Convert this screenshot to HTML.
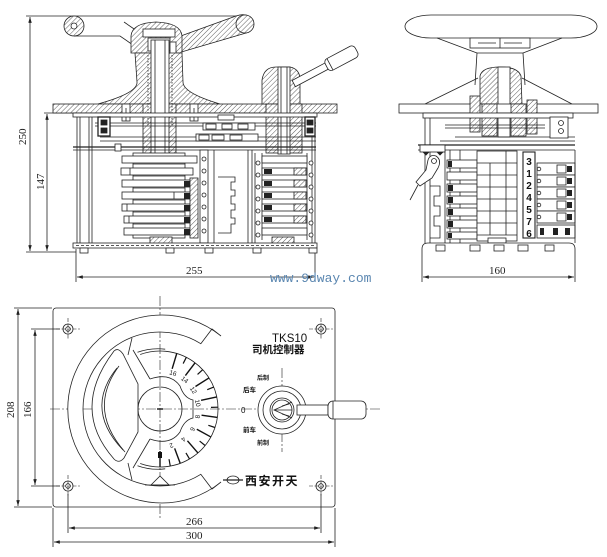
<!DOCTYPE html>
<html><head><meta charset="utf-8"><style>
html,body{margin:0;padding:0;background:#fff;}
svg{display:block;}
.dim{font-family:"Liberation Serif",serif;fill:#222;}
.cn{font-family:"Liberation Sans","Noto Sans CJK SC","WenQuanYi Zen Hei",sans-serif;font-weight:bold;fill:#111;}
.sans{font-family:"Liberation Sans",sans-serif;fill:#111;}
.num{font-family:"Liberation Sans",sans-serif;font-weight:bold;fill:#111;}
.wm{font-family:"Liberation Mono",monospace;fill:#5a86b0;}
</style></head><body>
<svg width="607" height="557" viewBox="0 0 607 557" xmlns="http://www.w3.org/2000/svg">
<defs>
<pattern id="h" width="3.5" height="3.5" patternUnits="userSpaceOnUse" patternTransform="rotate(45)">
<rect width="3.5" height="3.5" fill="#fff"/><line x1="0" y1="0" x2="0" y2="3.5" stroke="#333" stroke-width="0.8"/></pattern>
<marker id="a" viewBox="0 0 10 6" refX="10" refY="3" markerWidth="7" markerHeight="3.5" markerUnits="userSpaceOnUse" orient="auto-start-reverse"><path d="M0,0 L10,3 L0,6z" fill="#222"/></marker>
</defs>
<rect width="607" height="557" fill="#fff"/>

<g stroke="#222" stroke-width="0.8" fill="none">
<!-- ================= TOP-LEFT VIEW ================= -->
<line x1="26" y1="16" x2="245" y2="16"/>
<line x1="30" y1="17" x2="30" y2="251" marker-start="url(#a)" marker-end="url(#a)"/>
<line x1="26" y1="252" x2="76" y2="252"/>
<line x1="44" y1="113" x2="73" y2="113"/>
<line x1="47" y1="114" x2="47" y2="251" marker-start="url(#a)" marker-end="url(#a)"/>
<line x1="76" y1="249" x2="76" y2="282"/>
<line x1="315" y1="249" x2="315" y2="282"/>
<line x1="77" y1="277" x2="314" y2="277" marker-start="url(#a)" marker-end="url(#a)"/>

<circle cx="74" cy="26" r="10" fill="url(#h)"/>
<circle cx="74" cy="26" r="3" fill="#fff"/>
<polyline points="74,36 120,36 133,45"/>
<polyline points="124,22 137,31"/>
<path d="M178,37 L236,16 Q247,12 253,20 Q256,30 246,33 L178,53 Z" fill="url(#h)"/>
<circle cx="245" cy="24" r="9" fill="url(#h)"/>
<path d="M131,53 L131,36 Q132,23 156,22 Q181,23 182,36 L182,53 Z" fill="url(#h)"/>
<rect x="143" y="29" width="32" height="8" fill="#fff"/>
<rect x="148" y="38" width="22" height="13" fill="#fff"/>
<rect x="170" y="42" width="6" height="18" fill="#fff"/>
<path d="M135,53 L137,82 Q138,93 98,104 L220,104 Q183,93 183,82 L182,53 Z" fill="url(#h)"/>
<rect x="53" y="104" width="284" height="9" fill="url(#h)"/>
<rect x="143" y="104" width="33" height="50" fill="url(#h)"/>
<rect x="151" y="40" width="18" height="114" fill="#fff"/>
<line x1="155" y1="40" x2="155" y2="154"/><line x1="165" y1="40" x2="165" y2="154"/>
<line x1="148" y1="55" x2="148" y2="125" stroke-dasharray="1.5,1.5"/>
<line x1="172" y1="55" x2="172" y2="125" stroke-dasharray="1.5,1.5"/>
<rect x="122" y="104" width="8" height="17" fill="#fff"/><line x1="126" y1="108" x2="126" y2="121"/>
<rect x="190" y="104" width="8" height="17" fill="#fff"/><line x1="194" y1="108" x2="194" y2="121"/>

<path d="M262,104 L262,80 Q264,67 276,67 L290,67 Q300,69 300,80 L300,104 Z" fill="url(#h)"/>
<rect x="266" y="104" width="36" height="49" fill="url(#h)"/>
<rect x="278" y="67" width="12" height="87" fill="#fff"/>
<line x1="281" y1="67" x2="281" y2="154"/><line x1="287" y1="67" x2="287" y2="154"/>
<g transform="rotate(-28 294 84)">
<rect x="294" y="80" width="38" height="7" fill="#fff"/>
<rect x="331" y="77" width="34" height="13" rx="4" fill="#fff"/>
<line x1="335" y1="77" x2="335" y2="90"/>
</g>

<rect x="73" y="113" width="244" height="4" fill="#fff"/>
<line x1="95" y1="123" x2="316" y2="123"/>
<line x1="95" y1="126" x2="316" y2="126"/>
<line x1="100" y1="137" x2="316" y2="137"/>
<line x1="100" y1="141" x2="316" y2="141"/>
<line x1="73" y1="147" x2="316" y2="147" stroke-width="1.2"/>
<line x1="73" y1="150" x2="316" y2="150"/>
<line x1="77" y1="117" x2="77" y2="243"/><line x1="80" y1="117" x2="80" y2="243"/>
<line x1="89" y1="117" x2="89" y2="243"/><line x1="92" y1="117" x2="92" y2="243"/>
<line x1="312" y1="117" x2="312" y2="243"/><line x1="315" y1="117" x2="315" y2="243"/>
<rect x="98" y="117" width="12" height="19" fill="#fff" stroke-width="1.3"/>
<rect x="101" y="120" width="6" height="5" fill="#222"/><rect x="101" y="128" width="6" height="5" fill="#222"/>
<rect x="115" y="144" width="6" height="7" fill="#fff"/>
<rect x="218" y="115" width="16" height="5" fill="#fff"/>
<rect x="203" y="123" width="52" height="7" fill="#fff"/>
<rect x="206" y="124" width="10" height="5"/><rect x="222" y="124" width="10" height="5"/><rect x="238" y="124" width="10" height="5"/>
<rect x="196" y="134" width="62" height="7" fill="#fff"/>
<rect x="199" y="135" width="10" height="5"/><rect x="212" y="135" width="12" height="5"/><rect x="230" y="135" width="12" height="5"/>
<rect x="305" y="117" width="10" height="19" fill="#fff" stroke-width="1.3"/>
<rect x="307" y="120" width="6" height="5" fill="#222"/><rect x="307" y="128" width="6" height="5" fill="#222"/>

<rect x="133" y="153" width="52" height="85" fill="#fff"/>
<rect x="122" y="156" width="75" height="7" fill="#fff"/>
<rect x="121" y="168" width="72" height="7" fill="#fff"/><line x1="130" y1="168" x2="130" y2="175"/>
<rect x="122" y="180" width="75" height="7" fill="#fff"/>
<rect x="122" y="192" width="71" height="7" fill="#fff"/><line x1="174" y1="192" x2="174" y2="199"/>
<rect x="122" y="204" width="75" height="7" fill="#fff"/><line x1="127" y1="204" x2="127" y2="211"/>
<rect x="124" y="216" width="69" height="7" fill="#fff"/><line x1="129" y1="216" x2="129" y2="223"/>
<rect x="124" y="228" width="73" height="7" fill="#fff"/>
<line x1="133" y1="164" x2="185" y2="164"/><line x1="133" y1="176" x2="185" y2="176"/>
<line x1="133" y1="188" x2="185" y2="188"/><line x1="133" y1="200" x2="185" y2="200"/>
<line x1="133" y1="212" x2="185" y2="212"/><line x1="133" y1="224" x2="185" y2="224"/>
<g fill="#222" stroke="none">
<rect x="184" y="181" width="6" height="6"/><rect x="184" y="193" width="6" height="6"/>
<rect x="184" y="205" width="6" height="6"/><rect x="184" y="217" width="6" height="6"/>
<rect x="184" y="229" width="6" height="6"/>
</g>
<rect x="190" y="178" width="8" height="60" fill="url(#h)"/>
<rect x="200" y="150" width="8" height="93" fill="#fff"/>
<g fill="#fff">
<circle cx="204" cy="159" r="2"/><circle cx="204" cy="171" r="2"/><circle cx="204" cy="183" r="2"/>
<circle cx="204" cy="195" r="2"/><circle cx="204" cy="207" r="2"/><circle cx="204" cy="219" r="2"/><circle cx="204" cy="231" r="2"/>
</g>
<line x1="214" y1="150" x2="214" y2="243"/>
<line x1="248" y1="150" x2="248" y2="243"/><line x1="252" y1="150" x2="252" y2="243"/>
<polyline points="218,177 235,177 235,182 231,182 231,190 235,190 235,196 231,196 231,204 235,204 235,210 231,210 231,218 235,218 235,224 231,224 231,233 218,233"/>
<line x1="255" y1="153" x2="255" y2="243"/>
<line x1="262" y1="153" x2="262" y2="240"/><line x1="307" y1="153" x2="307" y2="240"/>
<rect x="262" y="156" width="45" height="7" fill="#fff"/>
<rect x="262" y="168" width="45" height="7" fill="#fff"/>
<rect x="262" y="180" width="45" height="7" fill="#fff"/>
<rect x="262" y="192" width="45" height="7" fill="#fff"/>
<rect x="262" y="204" width="45" height="7" fill="#fff"/>
<rect x="262" y="216" width="45" height="7" fill="#fff"/>
<rect x="262" y="228" width="45" height="7" fill="#fff"/>
<g fill="#222" stroke="none">
<rect x="264" y="169" width="8" height="5"/><rect x="264" y="181" width="8" height="5"/>
<rect x="264" y="193" width="8" height="5"/><rect x="264" y="205" width="8" height="5"/>
<rect x="264" y="217" width="8" height="5"/>
</g>
<rect x="294" y="168" width="12" height="7" fill="url(#h)"/><rect x="294" y="180" width="12" height="7" fill="url(#h)"/>
<rect x="294" y="192" width="12" height="7" fill="url(#h)"/><rect x="294" y="204" width="12" height="7" fill="url(#h)"/>
<rect x="294" y="216" width="12" height="7" fill="url(#h)"/>
<g fill="#fff">
<circle cx="258" cy="163" r="2"/><circle cx="258" cy="175" r="2"/><circle cx="258" cy="187" r="2"/>
<circle cx="258" cy="199" r="2"/><circle cx="258" cy="211" r="2"/><circle cx="258" cy="223" r="2"/><circle cx="258" cy="235" r="2"/>
<circle cx="311" cy="163" r="2"/><circle cx="311" cy="175" r="2"/><circle cx="311" cy="187" r="2"/>
<circle cx="311" cy="199" r="2"/><circle cx="311" cy="211" r="2"/><circle cx="311" cy="223" r="2"/><circle cx="311" cy="235" r="2"/>
</g>
<rect x="150" y="237" width="22" height="7" fill="url(#h)"/>
<rect x="272" y="237" width="22" height="7" fill="url(#h)"/>
<rect x="73" y="243" width="244" height="5" fill="#fff"/>
<line x1="76" y1="245.5" x2="314" y2="245.5" stroke-dasharray="3,2"/>
<rect x="80" y="248" width="8" height="5" fill="#fff"/>
<rect x="166" y="248" width="8" height="5" fill="#fff"/>
<rect x="205" y="248" width="8" height="5" fill="#fff"/>
<rect x="253" y="248" width="8" height="5" fill="#fff"/>
<rect x="309" y="248" width="8" height="5" fill="#fff"/>

<!-- ================= RIGHT VIEW ================= -->
<rect x="405" y="15" width="192" height="23" rx="26" ry="11.5" fill="#fff"/>
<line x1="437" y1="38" x2="477" y2="53"/><line x1="562" y1="38" x2="523" y2="53"/>
<rect x="470" y="38" width="60" height="10" fill="#fff"/>
<line x1="478" y1="43" x2="496" y2="43"/><line x1="504" y1="43" x2="522" y2="43"/>
<line x1="500" y1="38" x2="500" y2="48"/>
<line x1="477" y1="53" x2="523" y2="53"/>
<line x1="477" y1="53" x2="475" y2="85"/><line x1="523" y1="53" x2="525" y2="85"/>
<line x1="478" y1="78" x2="425" y2="104"/><line x1="522" y1="78" x2="572" y2="104"/>
<path d="M480,104 L480,76 Q482,67 500,67 Q518,67 521,76 L522,104 Z" fill="url(#h)"/>
<rect x="498" y="67" width="12" height="70" fill="#fff"/>
<rect x="399" y="104" width="199" height="9" fill="#fff"/>
<rect x="470" y="96" width="10" height="36" fill="url(#h)"/>
<rect x="482" y="104" width="15" height="32" fill="url(#h)"/>
<rect x="511" y="104" width="15" height="32" fill="url(#h)"/>
<rect x="527" y="100" width="10" height="34" fill="url(#h)"/>
<rect x="423" y="113" width="150" height="5" fill="#fff"/>
<line x1="445" y1="125" x2="545" y2="125"/>
<line x1="445" y1="128" x2="545" y2="128"/>
<line x1="455" y1="137" x2="575" y2="137"/>
<line x1="440" y1="141" x2="575" y2="141"/>
<line x1="418" y1="145" x2="575" y2="145" stroke-width="1.3"/>
<line x1="418" y1="150" x2="575" y2="150"/>
<rect x="550" y="117" width="18" height="21" fill="#fff"/>
<circle cx="561" cy="123" r="2.5"/><circle cx="561" cy="131" r="2.5"/>
<line x1="425" y1="118" x2="425" y2="243"/><line x1="430" y1="118" x2="430" y2="243"/>
<line x1="445" y1="150" x2="445" y2="243"/><line x1="450" y1="150" x2="450" y2="243"/>
<line x1="460" y1="150" x2="460" y2="243"/>
<rect x="420" y="145" width="25" height="7" fill="#fff"/>
<path d="M423,152 l3,3 l3,-3 M437,152 l3,3 l3,-3" fill="#222"/>
<path d="M428,160 Q430,154 436,156 Q442,160 438,168 L432,178 L420,186 L416,182 L426,170 Z" fill="#fff"/>
<circle cx="434" cy="161" r="2.5"/>
<line x1="418" y1="185" x2="410" y2="200"/>
<polyline points="430,186 440,186 440,196 434,196 434,206 440,206 440,216 434,216 434,226 440,226 440,238 430,238"/>
<g fill="#fff">
<rect x="447" y="160" width="30" height="8"/><rect x="447" y="172" width="30" height="8"/>
<rect x="447" y="184" width="30" height="8"/><rect x="447" y="196" width="30" height="8"/>
<rect x="447" y="208" width="30" height="8"/><rect x="447" y="220" width="30" height="8"/>
<rect x="447" y="232" width="30" height="7"/>
</g>
<g fill="#222" stroke="none">
<rect x="448" y="161" width="4" height="6"/><rect x="448" y="185" width="5" height="6"/>
<rect x="448" y="197" width="5" height="6"/><rect x="448" y="209" width="5" height="6"/>
<rect x="448" y="221" width="5" height="6"/><rect x="448" y="233" width="4" height="5"/>
</g>
<rect x="477" y="151" width="40" height="90" fill="#fff"/>
<line x1="477" y1="163" x2="517" y2="163"/><line x1="477" y1="175" x2="517" y2="175"/>
<line x1="477" y1="187" x2="517" y2="187"/><line x1="477" y1="199" x2="517" y2="199"/>
<line x1="477" y1="211" x2="517" y2="211"/><line x1="477" y1="223" x2="517" y2="223"/>
<line x1="477" y1="235" x2="517" y2="235"/>
<line x1="490" y1="163" x2="490" y2="235"/><line x1="506" y1="151" x2="506" y2="235"/>
<rect x="488" y="238" width="18" height="5" fill="#fff"/>
<rect x="523" y="152" width="12" height="86" fill="#fff" stroke-width="1.1"/>
<g fill="#fff">
<rect x="537" y="163" width="38" height="12"/><rect x="537" y="175" width="38" height="12"/>
<rect x="537" y="187" width="38" height="12"/><rect x="537" y="199" width="38" height="12"/>
<rect x="537" y="211" width="38" height="12"/><rect x="537" y="225" width="38" height="13"/>
</g>
<g fill="none">
<rect x="557" y="165" width="9" height="8"/><rect x="557" y="177" width="9" height="8"/>
<rect x="557" y="189" width="9" height="8"/><rect x="557" y="201" width="9" height="8"/>
<rect x="557" y="213" width="9" height="8"/>
</g>
<g fill="#222" stroke="none">
<rect x="567" y="166" width="5" height="6"/><rect x="567" y="178" width="5" height="6"/>
<rect x="567" y="190" width="5" height="6"/><rect x="567" y="202" width="5" height="6"/>
<rect x="567" y="214" width="5" height="6"/>
<rect x="540" y="228" width="4" height="7"/><rect x="553" y="228" width="5" height="7"/><rect x="565" y="228" width="5" height="7"/>
</g>
<circle cx="539" cy="169" r="1.8"/><circle cx="539" cy="181" r="1.8"/><circle cx="539" cy="193" r="1.8"/>
<circle cx="539" cy="205" r="1.8"/><circle cx="539" cy="217" r="1.8"/>
<line x1="575" y1="150" x2="575" y2="243"/>
<path d="M422,257 L422,249 Q422,243 428,243 L569,243 Q575,243 575,249 L575,257" fill="#fff"/>
<rect x="436" y="245" width="9" height="6"/><rect x="470" y="245" width="10" height="6"/>
<rect x="494" y="245" width="10" height="6"/><rect x="518" y="245" width="10" height="6"/>
<rect x="545" y="245" width="9" height="6"/>
<line x1="422" y1="257" x2="422" y2="282"/><line x1="575" y1="257" x2="575" y2="282"/>
<line x1="423" y1="277" x2="574" y2="277" marker-start="url(#a)" marker-end="url(#a)"/>

<!-- ================= BOTTOM VIEW ================= -->
<rect x="53" y="308" width="282" height="199" rx="3" fill="none"/>
<line x1="14" y1="308" x2="52" y2="308"/><line x1="14" y1="507" x2="52" y2="507"/>
<line x1="18" y1="309" x2="18" y2="506" marker-start="url(#a)" marker-end="url(#a)"/>
<line x1="31" y1="329" x2="60" y2="329"/><line x1="31" y1="486" x2="60" y2="486"/>
<line x1="35" y1="330" x2="35" y2="485" marker-start="url(#a)" marker-end="url(#a)"/>
<line x1="68" y1="494" x2="68" y2="533"/><line x1="321" y1="494" x2="321" y2="533"/>
<line x1="69" y1="528" x2="320" y2="528" marker-start="url(#a)" marker-end="url(#a)"/>
<line x1="53" y1="508" x2="53" y2="547"/><line x1="335" y1="508" x2="335" y2="547"/>
<line x1="54" y1="542" x2="334" y2="542" marker-start="url(#a)" marker-end="url(#a)"/>
<g stroke-width="0.6" stroke-dasharray="10,2,2,2">
<line x1="50" y1="409" x2="380" y2="409"/>
<line x1="160" y1="296" x2="160" y2="518"/>
<line x1="282" y1="368" x2="282" y2="452"/>
</g>
<g>
<circle cx="68" cy="329" r="5"/><circle cx="68" cy="329" r="2.3"/>
<circle cx="321" cy="329" r="5"/><circle cx="321" cy="329" r="2.3"/>
<circle cx="68" cy="486" r="5"/><circle cx="68" cy="486" r="2.3"/>
<circle cx="321" cy="486" r="5"/><circle cx="321" cy="486" r="2.3"/>
</g>
<g stroke-width="0.6" stroke-dasharray="4,1.5">
<line x1="56" y1="329" x2="80" y2="329"/><line x1="68" y1="318" x2="68" y2="340"/>
<line x1="309" y1="329" x2="333" y2="329"/><line x1="321" y1="318" x2="321" y2="340"/>
<line x1="56" y1="486" x2="80" y2="486"/><line x1="68" y1="475" x2="68" y2="497"/>
<line x1="309" y1="486" x2="333" y2="486"/><line x1="321" y1="475" x2="321" y2="497"/>
</g>
<path d="M200.8,343.7 L212,329 L221,336 A94 94 0 1 0 221,482 L212,489 L200.8,474.3 A77 77 0 1 1 200.8,343.7 Z" fill="#fff"/>
<line x1="132" y1="338" x2="128" y2="355"/>
<line x1="132" y1="480" x2="128" y2="463"/>
<path d="M114,351 Q118,347 123,354 L138,384 L138,432 L124,458 Q119,464 114,459 Q70,409 114,351 Z" fill="#fff"/>
<path d="M117,368 Q84,409 123,450"/>
<path d="M119,366 Q87,409 125,452"/>
<line x1="133" y1="350" x2="150" y2="379"/>
<line x1="133" y1="468" x2="150" y2="439"/>
<path d="M150,379 Q170,372 180,386 Q184,398 193,400 L193,418 Q184,420 180,432 Q170,446 150,439"/>
<circle cx="160" cy="409" r="22"/>
<line x1="157" y1="409" x2="163" y2="409" stroke-width="1.5"/>
<path d="M140.2,354.5 A58 58 0 1 1 140.2,463.5"/>
<path d="M137.5,352.3 A60 60 0 0 1 165.2,349.2"/>
<path d="M137.5,465.7 A60 60 0 0 0 165.2,468.8"/>
<g transform="translate(160,409)" stroke="#111">
<line x1="42" x2="58" transform="rotate(90)" stroke-width="1.4"/>
<line x1="51" x2="58" transform="rotate(79.8)" stroke-width="1.2"/>
<line x1="42" x2="58" transform="rotate(69.6)" stroke-width="1.4"/>
<line x1="51" x2="58" transform="rotate(59.4)" stroke-width="1.2"/>
<line x1="42" x2="58" transform="rotate(49.2)" stroke-width="1.4"/>
<line x1="51" x2="58" transform="rotate(39)" stroke-width="1.2"/>
<line x1="42" x2="58" transform="rotate(28.8)" stroke-width="1.4"/>
<line x1="51" x2="58" transform="rotate(18.6)" stroke-width="1.2"/>
<line x1="42" x2="58" transform="rotate(8.4)" stroke-width="1.4"/>
<line x1="51" x2="58" transform="rotate(-1.8)" stroke-width="1.2"/>
<line x1="42" x2="58" transform="rotate(-12)" stroke-width="1.4"/>
<line x1="51" x2="58" transform="rotate(-22.2)" stroke-width="1.2"/>
<line x1="42" x2="58" transform="rotate(-32.4)" stroke-width="1.4"/>
<line x1="51" x2="58" transform="rotate(-42.6)" stroke-width="1.2"/>
<line x1="42" x2="58" transform="rotate(-52.8)" stroke-width="1.4"/>
<line x1="51" x2="58" transform="rotate(-63)" stroke-width="1.2"/>
<line x1="42" x2="58" transform="rotate(-73.2)" stroke-width="1.4"/>
</g>
<rect x="158" y="452" width="4" height="6" fill="#111" stroke="none"/>
<polygon points="151,485 160,476 169,485" fill="#fff"/>
<line x1="145" y1="485" x2="175" y2="485"/>
<circle cx="282" cy="410" r="24" fill="#fff"/>
<circle cx="282" cy="410" r="19"/>
<circle cx="282" cy="410" r="12"/>
<circle cx="282" cy="410" r="10"/>
<polyline points="292,402 274,410 292,418"/>
<line x1="274" y1="410" x2="292" y2="410"/>
<line x1="282" y1="406" x2="289" y2="404"/><line x1="282" y1="414" x2="289" y2="416"/>
<rect x="297" y="405" width="31" height="10" fill="#fff"/>
<rect x="328" y="401" width="38" height="18" rx="5" fill="#fff"/>
<line x1="333" y1="401" x2="333" y2="419"/>
<ellipse cx="233" cy="480" rx="6" ry="4"/>
<line x1="223" y1="480" x2="243" y2="480" stroke-width="1.3"/>
</g>

<!-- dial numbers -->
<g font-size="6.5" text-anchor="middle">
<text class="sans" transform="translate(160,409) rotate(-73.2) translate(36,2) rotate(90)">16</text>
<text class="sans" transform="translate(160,409) rotate(-52.8) translate(36,2) rotate(90)">14</text>
<text class="sans" transform="translate(160,409) rotate(-32.4) translate(36,2) rotate(90)">12</text>
<text class="sans" transform="translate(160,409) rotate(-12) translate(36,2) rotate(90)">10</text>
<text class="sans" transform="translate(160,409) rotate(8.4) translate(36,2) rotate(90)">8</text>
<text class="sans" transform="translate(160,409) rotate(28.8) translate(36,2) rotate(90)">6</text>
<text class="sans" transform="translate(160,409) rotate(49.2) translate(36,2) rotate(90)">4</text>
<text class="sans" transform="translate(160,409) rotate(69.6) translate(36,2) rotate(90)">2</text>
</g>

<!-- numbers in right view box -->
<g font-size="10" text-anchor="middle">
<text class="num" x="529" y="165">3</text><text class="num" x="529" y="177">1</text><text class="num" x="529" y="189">2</text>
<text class="num" x="529" y="201">4</text><text class="num" x="529" y="213">5</text><text class="num" x="529" y="225">7</text><text class="num" x="529" y="237">6</text>
</g>

<!-- dimension texts -->
<g font-size="11">
<text class="dim" transform="translate(26,145) rotate(-90)">250</text>
<text class="dim" transform="translate(44,190) rotate(-90)">147</text>
<text class="dim" x="186" y="274">255</text>
<text class="dim" x="489" y="274">160</text>
<text class="dim" transform="translate(14,418) rotate(-90)">208</text>
<text class="dim" transform="translate(31,418) rotate(-90)">166</text>
<text class="dim" x="186" y="525">266</text>
<text class="dim" x="186" y="539">300</text>
</g>

<!-- watermark -->
<text class="wm" x="270" y="282" font-size="13">www.9dway.com</text>

<!-- labels -->
<text class="sans" x="272" y="342" font-size="11.5">TKS10</text>
<text class="cn" x="252" y="353" font-size="10.5">司机控制器</text>
<text class="cn" x="257" y="380" font-size="6">后制</text>
<text class="cn" x="243" y="392" font-size="6.5">后车</text>
<text class="sans" x="241" y="413" font-size="8">0</text>
<text class="cn" x="243" y="432" font-size="6.5">前车</text>
<text class="cn" x="257" y="445" font-size="6">前制</text>
<text class="cn" x="245" y="485" font-size="12" letter-spacing="1.5">西安开天</text>
</svg>
</body></html>
